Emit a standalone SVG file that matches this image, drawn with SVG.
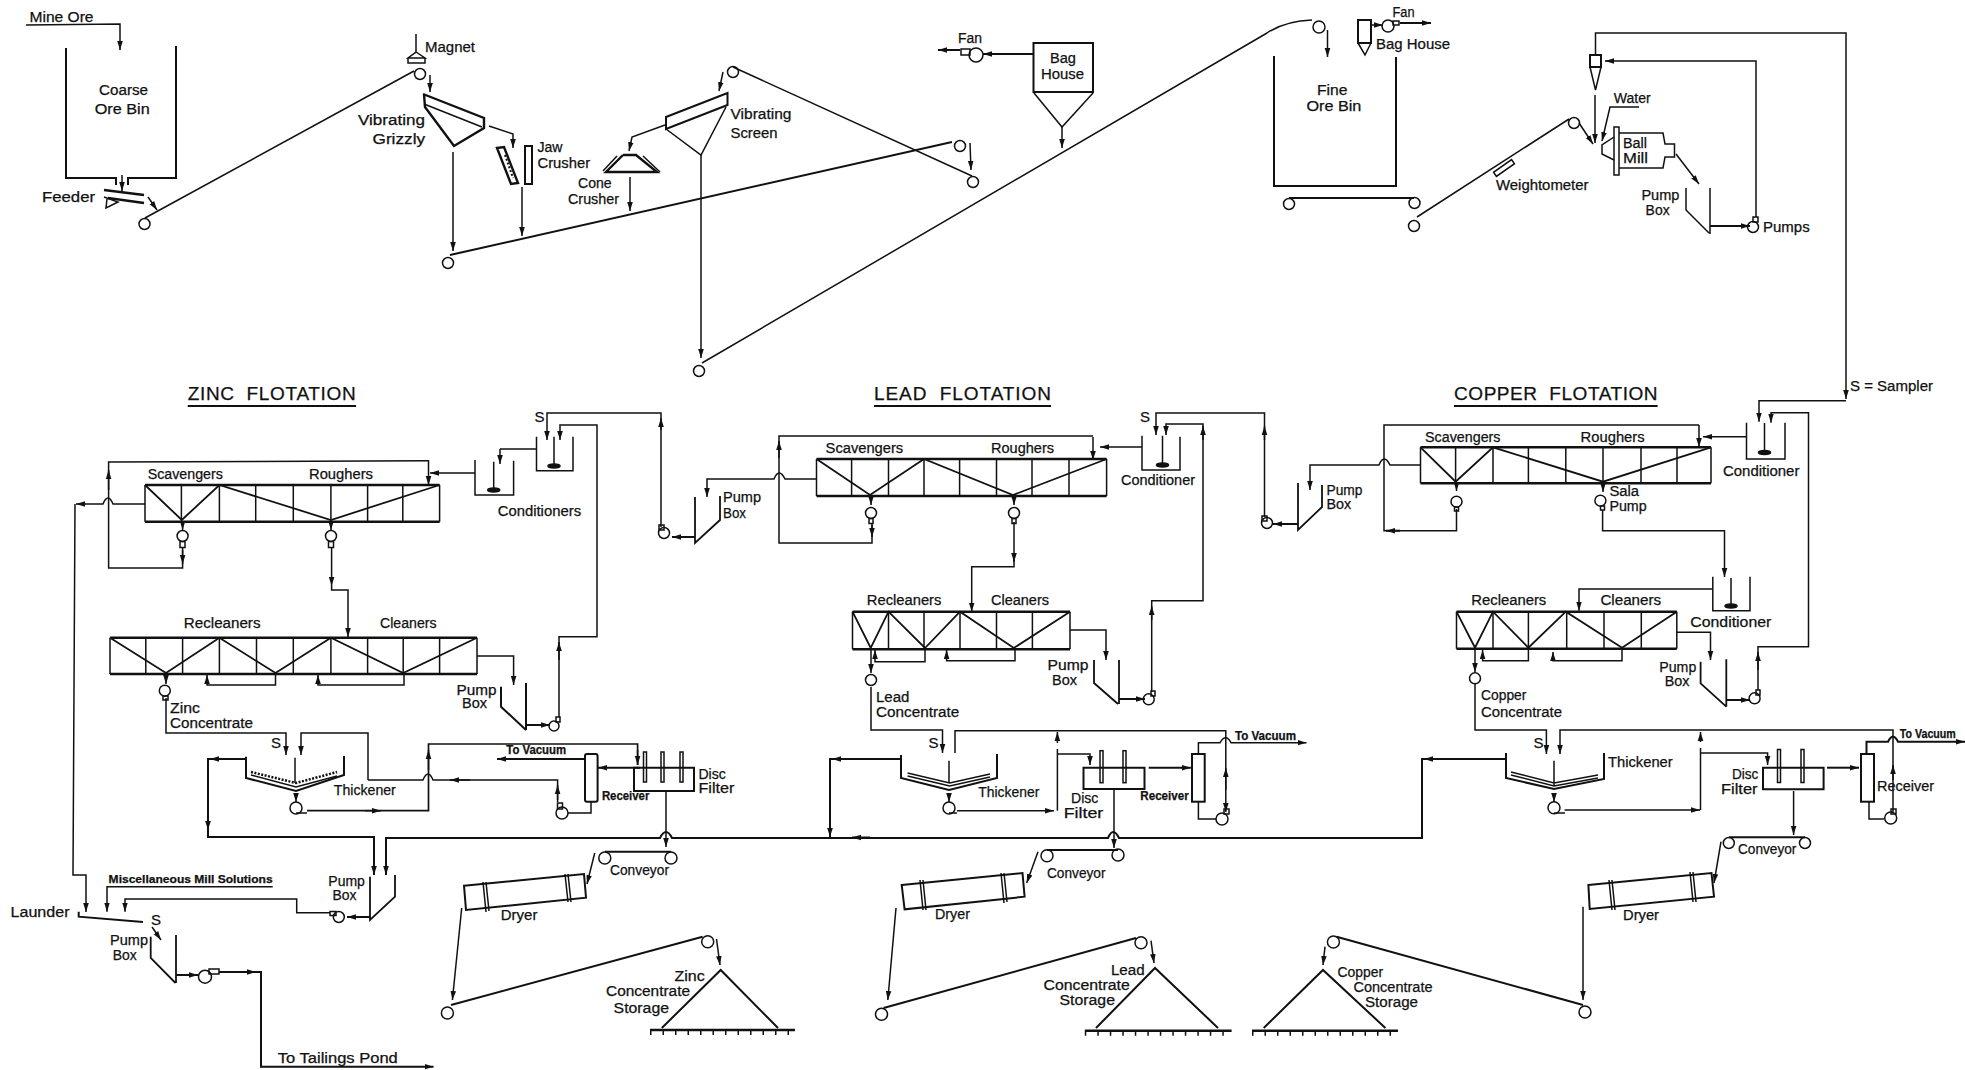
<svg xmlns="http://www.w3.org/2000/svg" width="1965" height="1070" viewBox="0 0 1965 1070">
<style>
text{font-family:"Liberation Sans",Arial,sans-serif;font-size:14px;fill:#111;stroke:#111;stroke-width:.25}
.b{font-weight:bold;font-size:12px}
.m{font-weight:bold;font-size:11px}
.h{font-size:19px}
.s{font-size:15px}
path,rect,circle,ellipse,line,polygon{fill:none;stroke:#111;stroke-width:1.5}
.t{stroke-width:2.4}
.k{fill:#111}
.a{marker-end:url(#ah)}
.g{stroke-width:4;stroke-dasharray:1.5 11}
.n{stroke-width:2}
</style>
<defs>
<marker id="ah" markerUnits="userSpaceOnUse" markerWidth="10" markerHeight="8" refX="9" refY="4" orient="auto"><path d="M0 1.2L9 4L0 6.800Z" style="fill:#111;stroke:none"/></marker>
</defs>
<rect x="0" y="0" width="1965" height="1070" style="fill:#fff;stroke:none"/>
<g id="connectors">
<path class="a" d="M26 25L120 24V50"/>
<path class="a" d="M122 175V191"/>
<path class="a" d="M148 197L157 210"/>
<path d="M145 218L414 71" style="stroke-width:1.600"/>
<path class="a" d="M430 75V92"/>
<path class="a" d="M489 126L513 134V148"/>
<path class="a" d="M453 152V251"/>
<path class="a" d="M522 187V236"/>
<path class="n" d="M450 255L952 142"/>
<path class="a" d="M970 143L971 170"/>
<path d="M733 67L972 176"/>
<path class="a" d="M723 72L719 91"/>
<path class="a" d="M665 125L632 137L629 151"/>
<path class="a" d="M630 177V211"/>
<path class="a" d="M701 155V358"/>
<path d="M702 363L1267 33Q1285 21 1312 20"/>
<path class="a" d="M1062 127V148"/>
<path class="a n" d="M1033 54H983"/>
<path class="a n" d="M960 50H938"/>
<path class="a" d="M1327.500 30V57"/>
<path class="a" d="M1372 25H1383"/>
<path class="a n" d="M1400 23H1431"/>
<path d="M1417 217L1569 119"/>
<path class="a" d="M1579 123L1593 144"/>
<path class="a" d="M1595 95V143"/>
<path d="M1595.500 55V33H1846V370"/>
<path class="a" d="M1756 217V61H1605"/>
<path class="a" d="M1639 107H1610L1602 141"/>
<path class="a" d="M1676 154L1699 184"/>
<path class="a n" d="M1710 226H1750"/>
<path class="a" d="M1846 370V399"/>
<path class="a" d="M1846 400.700H1759V421.700"/>
<path class="a" d="M1758 690V646.700H1808.500V412.700H1771V422.700"/>
<path class="a" d="M1758 670V652"/>
<path class="a" d="M1746.500 436.700H1703"/>
<path class="a" d="M1699 425V447"/>
<path d="M1699 425H1384V530.700H1456.500V509"/>
<path class="a n" d="M1400 530.700H1386"/>
<path class="a" d="M1420.500 465H1390Q1384 453 1379 465H1310V490"/>
<path class="a n" d="M1298 524H1273"/>
<path class="a" d="M1264.500 517V413H1156V435"/>
<path d="M1151.700 692V600.700H1203V424H1166V435" class="a"/>
<path class="a" d="M1203 440V426"/>
<path class="a" d="M1151.700 620V606"/>
<path class="a" d="M1264.500 440V426"/>
<path class="a" d="M1142 447H1100"/>
<path class="a" d="M1093 437V460"/>
<path d="M872 523V543H779V436H1093"/>
<path class="a" d="M779 458V441"/>
<path class="a" d="M872 525V537"/>
<path class="a" d="M816.500 479H785Q779 467 774 479H707V497"/>
<path class="a n" d="M695 537H672"/>
<path class="a" d="M661 527V413H547V440"/>
<path class="a" d="M661 430V418"/>
<path class="a" d="M559 717V636.700H597V425H560V440"/>
<path class="a" d="M559 660V642"/>
<path d="M536.500 449H500"/>
<path class="a" d="M500 449V464"/>
<path class="a" d="M475 473H430"/>
<path class="a" d="M428.500 460V485"/>
<path d="M182.600 548V568H108.600V462L428.500 460.700"/>
<path class="a" d="M182.600 550V564"/>
<path class="a" d="M108.600 490V470"/>
<path class="a" d="M145 504H113Q108 492 103 504H76"/>
<path class="a" d="M75 504L73 875H86V912"/>
<path class="a" d="M331.600 548V586"/>
<path class="a" d="M331.600 586V590H348V637"/>
<path class="a" d="M275.500 673V685H207V675"/>
<path class="a" d="M404 673V685H318V675"/>
<path class="a" d="M477 656H513.600V685"/>
<path class="a n" d="M526 725H550"/>
<path class="a" d="M166 698V733H286V755"/>
<path class="a" d="M368 780V733H301V755"/>
<path class="a n" d="M246 759H208V837H374V875"/>
<path class="a n" d="M230 759H210"/>
<path class="a" d="M208 810V830"/>
<path class="a n" d="M1505.600 759H1422V838H1119Q1113 826 1108 838H672Q666 826 660 838H386V875"/>
<path class="a n" d="M1505.600 759H1424"/>
<path class="a n" d="M901 759H830V837"/>
<path class="a n" d="M880 759H832"/>
<path class="a n" d="M870 837.500H852"/>
<path class="a n" d="M370 917H347"/>
<path class="a" d="M330 912.700H296.700V899H125V911.700"/>
<path class="a" d="M272.700 886.700H107V911.700"/>
<path class="a" d="M152 927L161 940"/>
<path class="a n" d="M176 975H198"/>
<path class="a n" d="M219 972H261V1066.700H433.500"/>
<path class="a" d="M240 972H256"/>
<path class="n" d="M307 810.700H428.500V744L637.600 744V765" style="stroke-width:1.700"/>
<path class="a" d="M637.600 750V765"/>
<path class="a" d="M428.500 770V750"/>
<path class="a" d="M365 810.700H381"/>
<path d="M368 780H423Q428 768 433 780H557.600V802"/>
<path class="a" d="M470 780H450"/>
<path class="a" d="M557.600 800V785"/>
<path d="M568 813H591V802"/>
<path class="a n" d="M585 759H497"/>
<path class="a n" d="M640 767.700H598"/>
<path class="a" d="M666 791V847"/>
<path class="a" d="M594.700 853L587 884"/>
<path class="a" d="M461.700 908L452.400 1000"/>
<path class="n" d="M451 1005L702.600 936.700"/>
<path class="a" d="M716.500 939L720 965"/>
<path class="a" d="M1014 522V562"/>
<path class="a" d="M1014 560V566.700H971.700V611.700"/>
<path class="a" d="M925 650V661.700H875V650"/>
<path class="a" d="M1015 650V660.700H946.600V650"/>
<path class="a" d="M871 650V673"/>
<path class="a" d="M871 687V730H942.500V753"/>
<path class="a" d="M955 753V730.700H1225.800V812"/>
<path class="a" d="M1225.800 790V768"/>
<path d="M1198.400 801.700V819H1216"/>
<path class="a" d="M1198.400 754V742.700H1220Q1225.800 733 1231 742.700H1306.500"/>
<path class="a" d="M957 810.700H1054"/>
<path d="M1057.400 810.700V749"/>
<path class="a" d="M1057.400 743V732"/>
<path class="a" d="M1057.400 754H1090V765"/>
<path class="a n" d="M1148.700 767.700H1190.800"/>
<path class="a" d="M1114 790V848"/>
<path class="a" d="M1038 851.700L1026.700 883"/>
<path class="a" d="M896 908L887.800 1000"/>
<path class="n" d="M883.600 1008L1136 938"/>
<path class="a" d="M1151 940.700L1154 963"/>
<path class="a" d="M1070 630H1106V660"/>
<path class="a n" d="M1119 699H1145"/>
<path class="a" d="M1602.600 510V530.700H1724.500V577"/>
<path class="a" d="M1712.800 589H1579V610.700"/>
<path class="a" d="M1528.400 649V660.700H1482.600V650"/>
<path class="a" d="M1622 649V660.700H1553V652"/>
<path class="a" d="M1475 648V672"/>
<path class="a" d="M1475 683V730H1546.400V754"/>
<path class="a" d="M1893 812V730H1560V754"/>
<path class="a" d="M1893 780V765"/>
<path class="a" d="M1676.800 632.300H1710.500V660"/>
<path class="a n" d="M1726 700H1750"/>
<path class="a" d="M1564.600 810H1700"/>
<path d="M1700.500 810V748"/>
<path class="a" d="M1700.500 742V732"/>
<path class="a" d="M1700.500 753H1767.600V765"/>
<path class="a n" d="M1827 767.700H1859"/>
<path d="M1869 801.700V819H1884"/>
<path class="a n" d="M1866.500 754V741.700H1888Q1893 732 1898 741.700H1965"/>
<path class="a" d="M1793.600 791V835"/>
<path class="a" d="M1721 841.700L1714 883"/>
<path class="a" d="M1583 906.700V1000"/>
<path class="n" d="M1336.600 936.700L1583 1005"/>
<path class="a" d="M1325 946.700L1323 965"/>
<path class="a" d="M1456.500 484V491"/>
<path class="a" d="M1603 483V492"/>
<path class="a" d="M182.600 521V530"/>
<path class="a" d="M331 521V530"/>
<path class="a" d="M871 496V505"/>
<path class="a" d="M1014 496V505"/>
<path class="a" d="M166 674V684"/>
</g>
<g id="coarse-ore-bin"><path class="n" d="M66 48V178H116V185M176 46V178H128V185"/><text x="29.500" y="22" textLength="64" lengthAdjust="spacingAndGlyphs">Mine Ore</text><text x="99" y="95" textLength="49" lengthAdjust="spacingAndGlyphs">Coarse</text><text x="94.700" y="114" textLength="55" lengthAdjust="spacingAndGlyphs">Ore Bin</text></g>
<g id="feeder"><path class="t" d="M104 190L144 195M108 198L144 203"/><path d="M104 197L118 202L106 208L107 199"/><text x="42" y="202" textLength="53" lengthAdjust="spacingAndGlyphs">Feeder</text></g>
<g id="belt-1"><circle cx="144.500" cy="224" r="5.500"/><circle cx="420" cy="74" r="5.500"/></g>
<g id="magnet"><path d="M416 34V52L408 58H425L416 52M408 58V63H425V58"/><text x="425" y="52" textLength="50" lengthAdjust="spacingAndGlyphs">Magnet</text></g>
<g id="vibrating-grizzly"><path class="t" d="M423 94L484 118V128L454 146L425 107L424 94"/><path d="M424 104L482 127"/><text x="358" y="125" textLength="67" lengthAdjust="spacingAndGlyphs">Vibrating</text><text x="372.500" y="144" textLength="52.600" lengthAdjust="spacingAndGlyphs">Grizzly</text></g>
<g id="jaw-crusher"><polygon class="t" points="497,148 504,147 518,183 511,184"/><rect class="n" x="525" y="146" width="7" height="38"/><path d="M505 155L513 178" style="stroke-width:2;stroke-dasharray:2 2"/><text x="537.500" y="152" textLength="25" lengthAdjust="spacingAndGlyphs">Jaw</text><text x="537.500" y="168" textLength="52.600" lengthAdjust="spacingAndGlyphs">Crusher</text></g>
<g id="cone-crusher"><path class="t" d="M623 155H636L657 172H606L623 155"/><path d="M603 171L617 156M643 156L660 172"/><text x="578" y="188" textLength="33.700" lengthAdjust="spacingAndGlyphs">Cone</text><text x="568" y="204" textLength="51" lengthAdjust="spacingAndGlyphs">Crusher</text></g>
<g id="belt-2"><circle cx="448" cy="263" r="5.500"/><circle cx="960" cy="146" r="5.500"/></g>
<g id="vibrating-screen"><path class="n" d="M666 117L727.500 93V105L666 129Z"/><path d="M666 129L701 155L726 107"/><text x="730.500" y="119" textLength="61" lengthAdjust="spacingAndGlyphs">Vibrating</text><text x="730.500" y="138" textLength="47" lengthAdjust="spacingAndGlyphs">Screen</text></g>
<g id="belt-3"><circle cx="733" cy="72" r="5.500"/><circle cx="973" cy="182" r="5.500"/></g>
<g id="belt-4"><circle cx="699" cy="371" r="5.500"/><circle cx="1319" cy="27" r="6"/></g>
<g id="bag-house-1"><path class="n" d="M1033.500 93V43H1093V92H1033.500"/><path d="M1034 93L1062 127L1093 93"/><text x="1050" y="63" textLength="26" lengthAdjust="spacingAndGlyphs">Bag</text><text x="1041" y="79" textLength="43" lengthAdjust="spacingAndGlyphs">House</text></g>
<g id="fan-1"><circle cx="976" cy="55" r="7"/><rect x="961" y="49" width="9" height="6"/><text x="958" y="43" textLength="24" lengthAdjust="spacingAndGlyphs">Fan</text></g>
<g id="fine-ore-bin"><path class="n" d="M1274 56V186H1396V57"/><text x="1317" y="95" textLength="30.500" lengthAdjust="spacingAndGlyphs">Fine</text><text x="1306.400" y="111" textLength="55" lengthAdjust="spacingAndGlyphs">Ore Bin</text></g>
<g id="bag-house-2"><rect class="n" x="1358" y="20" width="13" height="23"/><path d="M1358 43L1365 55L1371 43"/><circle cx="1388" cy="26" r="6"/><rect x="1393" y="21" width="6" height="4"/><text x="1392.500" y="17" textLength="22" lengthAdjust="spacingAndGlyphs">Fan</text><text x="1376" y="49" textLength="74" lengthAdjust="spacingAndGlyphs">Bag House</text></g>
<g id="belt-5"><path class="n" d="M1289 198H1414"/><circle cx="1289" cy="204" r="5.500"/><circle cx="1414.500" cy="203" r="5.500"/></g>
<g id="belt-6"><circle cx="1414" cy="226" r="5.500"/><circle cx="1574" cy="123" r="5.500"/><rect x="1493" y="165.500" width="22" height="5" transform="rotate(-35 1504 168)"/><text x="1496" y="190" textLength="92.500" lengthAdjust="spacingAndGlyphs">Weightometer</text></g>
<g id="cyclone"><rect class="n" x="1590" y="55" width="11" height="12"/><path d="M1590 67L1595.500 90L1601 67"/><text x="1613.800" y="103" textLength="37" lengthAdjust="spacingAndGlyphs">Water</text></g>
<g id="ball-mill"><rect x="1614" y="127" width="5" height="48"/><path d="M1619 133H1663L1665 144H1674.500V157H1665L1663 168H1619M1614 137L1602 145V154L1614 160"/><text x="1623" y="148" textLength="24" lengthAdjust="spacingAndGlyphs">Ball</text><text x="1623" y="163" textLength="25" lengthAdjust="spacingAndGlyphs">Mill</text></g>
<g id="pump-box-mill"><path d="M1686 188V210L1709 233M1710 188V234"/><text x="1641.400" y="200" textLength="38" lengthAdjust="spacingAndGlyphs">Pump</text><text x="1645.600" y="215" textLength="24" lengthAdjust="spacingAndGlyphs">Box</text></g>
<g id="pumps-mill"><circle cx="1753" cy="227" r="5.500"/><rect x="1753" y="217" width="5" height="5"/><text x="1763" y="232" textLength="46.700" lengthAdjust="spacingAndGlyphs">Pumps</text></g>
<text id="sampler-key" x="1850" y="391" textLength="83" lengthAdjust="spacingAndGlyphs">S = Sampler</text>
<g id="zinc-title"><text class="h" x="187.700" y="400" textLength="168" lengthAdjust="spacing" style="white-space:pre">ZINC  FLOTATION</text><path class="n" d="M187.700 406H356"/></g>
<g id="lead-title"><text class="h" x="874" y="400" textLength="177" lengthAdjust="spacing" style="white-space:pre">LEAD  FLOTATION</text><path class="n" d="M874 406H1051"/></g>
<g id="copper-title"><text class="h" x="1454" y="400" textLength="203.600" lengthAdjust="spacing" style="white-space:pre">COPPER  FLOTATION</text><path class="n" d="M1454 406H1657.600"/></g>
<g id="zinc-conditioners"><path d="M536.500 436.700V470.700H573V436.700M554 436.700V465M475 460V495H513.600V460.700M493.700 461.700V488"/><ellipse class="k" cx="554" cy="466" rx="6" ry="2"/><ellipse class="k" cx="493.700" cy="490" rx="6" ry="2"/><text class="s" x="534.500" y="421.700">S</text><text x="497.700" y="515.700" textLength="83.400" lengthAdjust="spacingAndGlyphs">Conditioners</text></g>
<g id="zinc-rougher-cells"><path d="M145 485V521.700M439.600 485V521.700M181.400 485V521.700M219.400 485V521.700M255.700 485V521.700M293.300 485V521.700M330.900 485V521.700M367.600 485V521.700M402.800 485V521.700"/><path class="t" d="M145 485H439.600M145 521.700H439.600"/><path style="stroke-width:1.800" d="M145 485L181.800 520L219.400 485L330.900 520L439.600 485"/><text x="147.800" y="479" textLength="75" lengthAdjust="spacingAndGlyphs">Scavengers</text><text x="309" y="479" textLength="64" lengthAdjust="spacingAndGlyphs">Roughers</text></g>
<g id="zinc-pumps"><circle cx="182.600" cy="536" r="5.500"/><rect x="180" y="541.500" width="5" height="6"/><circle cx="331" cy="536" r="5.500"/><rect x="328.500" y="541.500" width="5" height="6"/></g>
<g id="zinc-cleaner-cells"><path d="M110 637.700V674M477 637.700V674M145.800 637.700V674M182.600 637.700V674M219.400 637.700V674M256.500 637.700V674M293.300 637.700V674M330.900 637.700V674M367.600 637.700V674M403.200 637.700V674M439.600 637.700V674"/><path class="t" d="M110 637.700H477M110 674H477"/><path style="stroke-width:1.800" d="M110 637.700L166 673L219.400 637.700L275.500 673L330.900 637.700L403.200 673L477 637.700"/><text x="183.800" y="628" textLength="76.700" lengthAdjust="spacingAndGlyphs">Recleaners</text><text x="380" y="628" textLength="56.500" lengthAdjust="spacingAndGlyphs">Cleaners</text></g>
<g id="zinc-pump-box"><path class="n" d="M501 686.700V706.700L526 730M526 683V730"/><circle cx="554" cy="726" r="5"/><rect x="556" y="717" width="4" height="5"/><text x="456.600" y="695" textLength="40" lengthAdjust="spacingAndGlyphs">Pump</text><text x="462" y="708" textLength="25" lengthAdjust="spacingAndGlyphs">Box</text></g>
<g id="zinc-product-pump"><circle cx="164.800" cy="690.700" r="5.500"/><rect x="163" y="696" width="5" height="4"/><text x="170" y="713" textLength="30" lengthAdjust="spacingAndGlyphs">Zinc</text><text x="170" y="728" textLength="83" lengthAdjust="spacingAndGlyphs">Concentrate</text></g>
<g id="zinc-thickener"><path class="n" d="M246 756.700V778L296 791L344 775V756"/><path d="M295 757.700V783"/><path d="M251 775L296 787L337 776"/><path d="M251 772L296 783L337 772" style="stroke-dasharray:2 1.500;stroke-width:2.500"/><circle cx="296" cy="808" r="6"/><path class="a" d="M296 796V802"/><path d="M296 813H307"/><text class="s" x="271" y="748">S</text><text x="333.800" y="795" textLength="62" lengthAdjust="spacingAndGlyphs">Thickener</text></g>
<g id="zinc-receiver"><rect class="n" x="585" y="754" width="12.600" height="47.700" rx="2"/><circle cx="562" cy="813" r="6"/><rect x="557.500" y="803" width="5" height="6"/><text class="b" x="506.300" y="754" textLength="59.800" lengthAdjust="spacingAndGlyphs">To Vacuum</text><text class="b" x="601.900" y="800" textLength="47.500" lengthAdjust="spacingAndGlyphs">Receiver</text></g>
<g id="zinc-disc-filter"><path class="n" d="M634 767.700H694V791H634Z"/><rect x="643.500" y="752" width="3" height="30"/><rect x="661" y="752" width="3" height="30"/><rect x="680" y="752" width="3" height="30"/><text x="698.400" y="779" textLength="27.400" lengthAdjust="spacingAndGlyphs">Disc</text><text x="698.400" y="792.700" textLength="36" lengthAdjust="spacingAndGlyphs">Filter</text></g>
<g id="zinc-conveyor"><path class="n" d="M605 851.700H671"/><circle cx="604.800" cy="858" r="6"/><circle cx="671" cy="858" r="6"/><text x="610" y="875" textLength="59" lengthAdjust="spacingAndGlyphs">Conveyor</text></g>
<g id="zinc-dryer"><path class="n" d="M464 885.700L584 874L586 897.700L466 910Z"/><path d="M483 882L486 912M486 882L489 911M565 874L568 902M568 874L571 902"/><text x="500.800" y="920" textLength="36.600" lengthAdjust="spacingAndGlyphs">Dryer</text></g>
<g id="zinc-belt"><circle cx="447.400" cy="1013" r="6"/><circle cx="707.700" cy="941.700" r="6"/></g>
<g id="zinc-storage"><path class="n" d="M661.800 1028L720.700 970L778 1028"/><path style="stroke-width:2.500" d="M650 1030H795"/><path class="g" d="M650 1033H795"/><text x="674.400" y="981" textLength="30.300" lengthAdjust="spacingAndGlyphs">Zinc</text><text x="606" y="996" textLength="84" lengthAdjust="spacingAndGlyphs">Concentrate</text><text x="613.600" y="1013" textLength="55.400" lengthAdjust="spacingAndGlyphs">Storage</text></g>
<g id="tails-launder"><path class="n" d="M78.700 911.700V916.700L143 922"/><text x="10.500" y="916.700" textLength="59" lengthAdjust="spacingAndGlyphs">Launder</text><text class="s" x="151" y="925">S</text><text class="m" x="108.600" y="882.700" textLength="164" lengthAdjust="spacingAndGlyphs">Miscellaneous Mill Solutions</text></g>
<g id="mill-pump-box"><path style="stroke-width:1.800" d="M370 876.700V920L395 896.700V875"/><circle cx="338.800" cy="917" r="5.500"/><rect x="330" y="911.500" width="6" height="4"/><text x="328.300" y="885.700" textLength="36.600" lengthAdjust="spacingAndGlyphs">Pump</text><text x="332.500" y="900" textLength="24" lengthAdjust="spacingAndGlyphs">Box</text></g>
<g id="tails-pump-box"><path style="stroke-width:1.800" d="M150.700 936.700V958L175.500 983M176 935V983"/><circle cx="205" cy="976.700" r="6.500"/><rect x="209" y="969" width="10" height="5"/><text x="110" y="945" textLength="38" lengthAdjust="spacingAndGlyphs">Pump</text><text x="112.800" y="960" textLength="24" lengthAdjust="spacingAndGlyphs">Box</text><text x="277.800" y="1063" textLength="120" lengthAdjust="spacingAndGlyphs">To Tailings Pond</text></g>
<g id="lead-pump-box-1"><path style="stroke-width:1.800" d="M695 497V543L720 520V496"/><circle cx="664" cy="533" r="5.500"/><rect x="659" y="525" width="5" height="5"/><text x="723" y="502" textLength="38" lengthAdjust="spacingAndGlyphs">Pump</text><text x="723" y="517.700" textLength="23" lengthAdjust="spacingAndGlyphs">Box</text></g>
<g id="lead-conditioner"><path d="M1142 435.700V470H1180V436.700M1162.500 435.700V465"/><ellipse class="k" cx="1162.500" cy="465" rx="6" ry="2"/><text class="s" x="1140" y="421.700">S</text><text x="1121" y="485" textLength="74" lengthAdjust="spacingAndGlyphs">Conditioner</text></g>
<g id="lead-rougher-cells"><path d="M816.500 459V496M1106.600 459V496M851.600 459V496M888.500 459V496M924 459V496M959.600 459V496M996.500 459V496M1032 459V496M1069 459V496"/><path class="t" d="M816.500 459H1106.600M816.500 496H1106.600"/><path style="stroke-width:1.800" d="M816.500 459L870 495L924 459L1013 495L1106.600 459"/><text x="825.600" y="453" textLength="77.600" lengthAdjust="spacingAndGlyphs">Scavengers</text><text x="991" y="453" textLength="63" lengthAdjust="spacingAndGlyphs">Roughers</text></g>
<g id="lead-pumps"><circle cx="871" cy="513" r="5.500"/><rect x="869" y="518.500" width="4" height="5"/><circle cx="1014" cy="513" r="5.500"/><rect x="1012" y="518.500" width="4" height="5"/></g>
<g id="lead-cleaner-cells"><path d="M852.500 611.700V649.300M1070 611.700V649.300M888.500 611.700V649.300M924 611.700V649.300M960 611.700V649.300M996.500 611.700V649.300M1032.400 611.700V649.300"/><path class="t" d="M852.500 611.700H1070M852.500 649.300H1070"/><path style="stroke-width:1.800" d="M852.500 611.700L870.700 648L888.500 611.700L925 648L960 611.700L1013.800 648L1070 611.700"/><text x="866.800" y="605" textLength="74.600" lengthAdjust="spacingAndGlyphs">Recleaners</text><text x="991" y="605" textLength="58" lengthAdjust="spacingAndGlyphs">Cleaners</text></g>
<g id="lead-product-pump"><circle cx="871" cy="680" r="5.500"/><text x="876" y="701.700" textLength="33.400" lengthAdjust="spacingAndGlyphs">Lead</text><text x="876" y="716.700" textLength="83.300" lengthAdjust="spacingAndGlyphs">Concentrate</text></g>
<g id="lead-pump-box-2"><path style="stroke-width:1.800" d="M1094 660V683L1118 704M1119 660V704"/><circle cx="1148.700" cy="699.300" r="5.500"/><rect x="1151" y="691" width="4" height="5"/><text x="1047.600" y="670" textLength="41" lengthAdjust="spacingAndGlyphs">Pump</text><text x="1052" y="685" textLength="25" lengthAdjust="spacingAndGlyphs">Box</text></g>
<g id="lead-thickener"><path class="n" d="M901 755V778L949 790L997 778V754"/><path d="M949 760.700V783M907.600 773L949.700 783L990 774M907.600 776L949.700 786L990 777"/><circle cx="949" cy="808" r="6"/><path class="a" d="M949 796V802"/><path d="M949 813H957"/><text class="s" x="928.600" y="748">S</text><text x="978.300" y="796.700" textLength="61" lengthAdjust="spacingAndGlyphs">Thickener</text></g>
<g id="lead-disc-filter"><path class="n" d="M1083.500 767.700H1144.500V789H1083.500Z"/><rect x="1100" y="750.700" width="3" height="32"/><rect x="1123" y="750.700" width="3" height="32"/><text x="1071" y="803" textLength="27.400" lengthAdjust="spacingAndGlyphs">Disc</text><text x="1063.700" y="818" textLength="39.600" lengthAdjust="spacingAndGlyphs">Filter</text></g>
<g id="lead-receiver"><rect class="n" x="1192" y="754" width="12.700" height="47.700"/><circle cx="1222" cy="819" r="6"/><rect x="1224" y="809" width="5" height="5"/><text class="b" x="1140.300" y="800" textLength="48.400" lengthAdjust="spacingAndGlyphs">Receiver</text><text class="b" x="1235" y="740" textLength="61" lengthAdjust="spacingAndGlyphs">To Vacuum</text></g>
<g id="lead-conveyor"><path class="n" d="M1047 850H1118"/><circle cx="1047" cy="855.700" r="6"/><circle cx="1118" cy="855" r="6"/><text x="1047" y="878" textLength="58.500" lengthAdjust="spacingAndGlyphs">Conveyor</text></g>
<g id="lead-dryer"><path class="n" d="M901.700 885L1022.500 873L1024.600 896.700L904.600 909.300Z"/><path d="M920 880L923 910M923 880L926 910M1001 873L1004 903M1004 873L1007 902"/><text x="935" y="919" textLength="35" lengthAdjust="spacingAndGlyphs">Dryer</text></g>
<g id="lead-belt"><circle cx="881.500" cy="1014.300" r="6"/><circle cx="1141" cy="942.700" r="6"/></g>
<g id="lead-storage"><path class="n" d="M1096 1028L1155 968L1218 1028"/><path style="stroke-width:2.500" d="M1084.800 1030.700H1231.600"/><path class="g" d="M1084.800 1033.700H1231.600"/><text x="1110.900" y="975" textLength="33.700" lengthAdjust="spacingAndGlyphs">Lead</text><text x="1043.500" y="990" textLength="86.300" lengthAdjust="spacingAndGlyphs">Concentrate</text><text x="1059.500" y="1005" textLength="55.500" lengthAdjust="spacingAndGlyphs">Storage</text></g>
<g id="copper-pump-box-1"><path style="stroke-width:1.800" d="M1298 483V530L1322 507V485"/><circle cx="1267" cy="523" r="5.500"/><rect x="1262" y="516" width="5" height="5"/><text x="1326.500" y="495" textLength="36" lengthAdjust="spacingAndGlyphs">Pump</text><text x="1326.500" y="509" textLength="24.700" lengthAdjust="spacingAndGlyphs">Box</text></g>
<g id="copper-conditioner-1"><path d="M1746.500 422.700V459H1785V422.700M1764.500 423V452"/><ellipse class="k" cx="1764.500" cy="452.500" rx="6" ry="2"/><text x="1723" y="476" textLength="76.400" lengthAdjust="spacingAndGlyphs">Conditioner</text></g>
<g id="copper-rougher-cells"><path d="M1420.500 447.300V483.300M1711 447.300V483.300M1455.600 447.300V483.300M1493 447.300V483.300M1528.400 447.300V483.300M1565.800 447.300V483.300M1603 447.300V483.300M1641 447.300V483.300M1677 447.300V483.300"/><path class="t" d="M1420.500 447.300H1711M1420.500 483.300H1711"/><path style="stroke-width:1.800" d="M1420.500 447.300L1455.600 481.700L1493 447.300L1603 481.700L1711 447.300"/><text x="1425" y="441.700" textLength="75.500" lengthAdjust="spacingAndGlyphs">Scavengers</text><text x="1580.600" y="441.700" textLength="64" lengthAdjust="spacingAndGlyphs">Roughers</text></g>
<g id="copper-pumps"><circle cx="1456.500" cy="501.700" r="5.500"/><rect x="1454.500" y="507" width="4" height="4"/><circle cx="1600.400" cy="500.700" r="5.500"/><rect x="1600.500" y="506" width="4" height="4"/><text x="1609.400" y="496" textLength="29.700" lengthAdjust="spacingAndGlyphs">Sala</text><text x="1609.400" y="511" textLength="37.300" lengthAdjust="spacingAndGlyphs">Pump</text></g>
<g id="copper-conditioner-2"><path d="M1712.800 576.700V610.700H1750V576.700M1731 578V605"/><ellipse class="k" cx="1731" cy="606" rx="6" ry="2"/><text x="1690.300" y="627" textLength="81" lengthAdjust="spacingAndGlyphs">Conditioner</text></g>
<g id="copper-cleaner-cells"><path d="M1456.500 611.700V648.700M1676.800 611.700V648.700M1493 611.700V648.700M1528.400 611.700V648.700M1566.700 611.700V648.700M1604 611.700V648.700M1641.300 611.700V648.700"/><path class="t" d="M1456.500 611.700H1676.800M1456.500 648.700H1676.800"/><path style="stroke-width:1.800" d="M1456.500 611.700L1475 647.700L1493 611.700L1528.400 647.700L1565.800 611.700L1622 647.700L1676.800 611.700"/><text x="1471.300" y="605" textLength="75" lengthAdjust="spacingAndGlyphs">Recleaners</text><text x="1600.400" y="605" textLength="60.700" lengthAdjust="spacingAndGlyphs">Cleaners</text></g>
<g id="copper-product-pump"><circle cx="1475" cy="678.300" r="5.500"/><text x="1481" y="700" textLength="45.400" lengthAdjust="spacingAndGlyphs">Copper</text><text x="1481" y="716.700" textLength="81" lengthAdjust="spacingAndGlyphs">Concentrate</text></g>
<g id="copper-pump-box-2"><path style="stroke-width:1.800" d="M1700.600 661.700V683.300L1726.300 706.700M1726.300 659.300V706.700"/><circle cx="1754.600" cy="698.300" r="5.500"/><rect x="1756" y="690" width="4" height="5"/><text x="1659.300" y="671.700" textLength="37" lengthAdjust="spacingAndGlyphs">Pump</text><text x="1664.700" y="686" textLength="24.700" lengthAdjust="spacingAndGlyphs">Box</text></g>
<g id="copper-thickener"><path class="n" d="M1506 753V778L1554 789L1604 779V753"/><path d="M1554 760.700V786M1511 772L1554 783L1598 775M1511 775L1554 786L1598 778"/><circle cx="1554" cy="807.700" r="6"/><path class="a" d="M1554 796V802"/><path d="M1554 813H1565"/><text class="s" x="1533.600" y="748">S</text><text x="1608" y="767" textLength="64.700" lengthAdjust="spacingAndGlyphs">Thickener</text></g>
<g id="copper-disc-filter"><path class="n" d="M1763 767.700H1823.600V789.300H1763Z"/><rect x="1777.500" y="749.500" width="3" height="33"/><rect x="1801" y="749.500" width="3" height="33"/><text x="1732" y="779" textLength="26.400" lengthAdjust="spacingAndGlyphs">Disc</text><text x="1721" y="794" textLength="36.500" lengthAdjust="spacingAndGlyphs">Filter</text></g>
<g id="copper-receiver"><rect class="n" x="1861" y="754" width="13" height="47.700"/><circle cx="1890.700" cy="818" r="6"/><rect x="1891" y="809" width="5" height="5"/><text x="1877" y="790.700" textLength="57" lengthAdjust="spacingAndGlyphs">Receiver</text><text class="b" x="1899.800" y="738" textLength="56" lengthAdjust="spacingAndGlyphs">To Vacuum</text></g>
<g id="copper-conveyor"><path class="n" d="M1729 837.300H1805"/><circle cx="1728.800" cy="843" r="5.500"/><circle cx="1805" cy="843" r="5.500"/><text x="1738" y="854" textLength="58.400" lengthAdjust="spacingAndGlyphs">Conveyor</text></g>
<g id="copper-dryer"><path class="n" d="M1588.400 885L1711.500 873L1714 896.700L1589.700 909Z"/><path d="M1609 880L1612 910M1612 880L1615 910M1690 872L1693 902M1693 872L1696 902"/><text x="1623" y="920" textLength="36" lengthAdjust="spacingAndGlyphs">Dryer</text></g>
<g id="copper-belt"><circle cx="1585" cy="1012" r="6"/><circle cx="1333.400" cy="942" r="6"/></g>
<g id="copper-storage"><path class="n" d="M1263.700 1028L1323 970L1385.400 1028"/><path style="stroke-width:2.500" d="M1252 1030.700H1398"/><path class="g" d="M1252 1033.700H1398"/><text x="1337.500" y="977" textLength="45.600" lengthAdjust="spacingAndGlyphs">Copper</text><text x="1353.500" y="992" textLength="79" lengthAdjust="spacingAndGlyphs">Concentrate</text><text x="1365" y="1006.700" textLength="53" lengthAdjust="spacingAndGlyphs">Storage</text></g>
</svg>
